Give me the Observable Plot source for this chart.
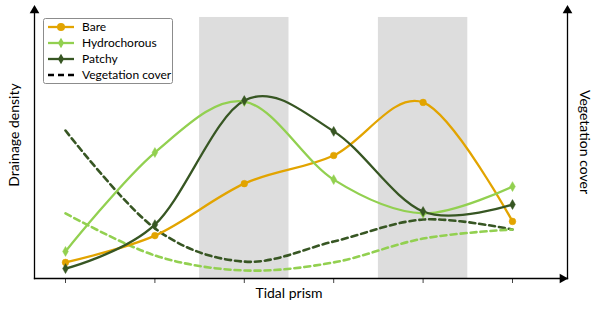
<!DOCTYPE html>
<html>
<head>
<meta charset="utf-8">
<script src="https://cdn.jsdelivr.net/npm/d3@7"></script>
<script src="https://cdn.jsdelivr.net/npm/@observablehq/plot@0.6"></script>
<style>
  body { margin: 0; background: #fff; }
  #wrap { position: relative; width: 600px; height: 309px; font-family: Lato, "Open Sans", sans-serif; }
  #legend { position: absolute; left: 43px; top: 18px; }
  .ytitle { position: absolute; font-size: 14px; color: #000; white-space: nowrap; line-height: 1; }
  #ytitle { left: 14px; top: 135px; transform: translate(-50%, -50%) rotate(-90deg); }
  #y2title { left: 585px; top: 142px; transform: translate(-50%, -50%) rotate(90deg); }
</style>
</head>
<body>
<div id="wrap"><div id="chart"></div><div id="legend"></div>
  <div id="ytitle" class="ytitle"></div><div id="y2title" class="ytitle"></div></div>
<script>
// ---- data (arbitrary units) ----
const steps = [0, 1, 2, 3, 4, 5];                 // positions along "Tidal prism"
const bare = [6.0, 16.0, 35.4, 45.9, 65.7, 21.3];
const hydrochorous = [10.1, 47.0, 66.0, 36.9, 24.3, 34.3];
const patchy = [3.7, 20.1, 66.4, 54.9, 25.0, 27.6];
const coverPatchy = [55.2, 18.7, 6.3, 13.8, 22.0, 18.3];       // dashed dark green
const coverHydrochorous = [24.3, 8.6, 3.0, 6.0, 14.9, 18.3];    // dashed light green
const bandStart = [1.5, 3.5];
const bandEnd = [2.5, 4.5];
const bandTop = 97.4;
const seriesNames = ["Bare", "Hydrochorous", "Patchy"];
const coverName = "Vegetation cover";
const xTitle = "Tidal prism";
const yTitle = "Drainage density";
const y2Title = "Vegetation cover";

const colors = { Bare: "#E2A400", Hydrochorous: "#92D050", Patchy: "#375623" };
const symbols = { Bare: "circle", Hydrochorous: "diamond", Patchy: "diamond" };
const radii = { Bare: 4, Hydrochorous: 3.2, Patchy: 3.2 };

const seriesValues = { Bare: bare, Hydrochorous: hydrochorous, Patchy: patchy };
const rows = seriesNames.flatMap(name => steps.map((s, i) => ({ name, x: s, y: seriesValues[name][i] })));
const coverRows = [
  ...steps.map((s, i) => ({ name: "Patchy", x: s, y: coverPatchy[i] })),
  ...steps.map((s, i) => ({ name: "Hydrochorous", x: s, y: coverHydrochorous[i] }))
];
const bands = bandStart.map((a, i) => ({ x1: a, x2: bandEnd[i], y1: 0, y2: bandTop }));

const font = "Lato, 'Open Sans', sans-serif";

const chart = Plot.plot({
  width: 600,
  height: 309,
  marginLeft: 34,
  marginRight: 33,
  marginTop: 10,
  marginBottom: 31,
  style: { fontFamily: font, background: "#fff", color: "#000" },
  x: { domain: [0, 5], insetLeft: 31, insetRight: 55 },
  y: { domain: [0, 100], axis: null },
  color: { domain: seriesNames, range: seriesNames.map(n => colors[n]) },
  marks: [
    Plot.rectX(bands, { x1: "x1", x2: "x2", y1: "y1", y2: "y2", fill: "#DDDDDD" }),
    Plot.axisX({ ticks: steps, tickSize: 5, tickFormat: () => "", label: null, stroke: "#444", strokeWidth: 1 }),
    Plot.line(coverRows, { x: "x", y: "y", z: "name", stroke: "name", strokeWidth: 2.6, strokeDasharray: "6,4", curve: "cardinal", tension: 0 }),
    Plot.line(rows, { x: "x", y: "y", z: "name", stroke: "name", strokeWidth: 2.3, curve: "cardinal", tension: 0 }),
    Plot.dot(rows, { x: "x", y: "y", fill: "name", stroke: "name", strokeWidth: 0.5, symbol: d => symbols[d.name], r: d => radii[d.name] }),
    Plot.frame({ anchor: "left", stroke: "#000", strokeWidth: 1.3 }),
    Plot.frame({ anchor: "right", stroke: "#000", strokeWidth: 1.3 }),
    Plot.frame({ anchor: "bottom", stroke: "#000", strokeWidth: 1.3 }),
    Plot.dot([0], { frameAnchor: "top-left", symbol: "triangle", r: 3.6, fill: "#000", stroke: null }),
    Plot.dot([0], { frameAnchor: "top-right", symbol: "triangle", r: 3.6, fill: "#000", stroke: null }),
    Plot.dot([0], { frameAnchor: "bottom-right", symbol: "triangle", rotate: 90, dx: -5, r: 3.6, fill: "#000", stroke: null }),
    Plot.text([xTitle], { frameAnchor: "bottom", textAnchor: "middle", dx: -12, dy: 19, fontSize: 14, fill: "#000" })
  ]
});
document.getElementById("chart").appendChild(chart);
document.getElementById("ytitle").textContent = yTitle;
document.getElementById("y2title").textContent = y2Title;

// ---- legend ----
const lw = 130, lh = 66;
const leg = d3.select("#legend").append("svg").attr("width", lw).attr("height", lh)
  .style("font-family", font);
leg.append("rect").attr("x", 0.5).attr("y", 0.5).attr("width", lw - 1).attr("height", lh - 1)
  .attr("rx", 2).attr("fill", "#fff").attr("stroke", "#8c8c8c");
const entries = [...seriesNames.map(n => ({ name: n, color: colors[n], dash: null })),
  { name: coverName, color: "#000", dash: "6,4" }];
entries.forEach((e, i) => {
  const g = leg.append("g").attr("transform", `translate(0,${9 + i * 16})`);
  g.append("line").attr("x1", 5).attr("x2", 31).attr("stroke", e.color)
    .attr("stroke-width", e.dash ? 2.6 : 2.3).attr("stroke-dasharray", e.dash);
  if (!e.dash) {
    const sym = symbols[e.name] === "circle" ? d3.symbolCircle : d3.symbolDiamond;
    g.append("path").attr("transform", "translate(18,0)")
      .attr("d", d3.symbol(sym, Math.PI * radii[e.name] ** 2)()).attr("fill", e.color);
  }
  g.append("text").attr("x", 39).attr("y", 0).attr("dy", "0.35em").attr("font-size", 12).text(e.name);
});
</script>
</body>
</html>
